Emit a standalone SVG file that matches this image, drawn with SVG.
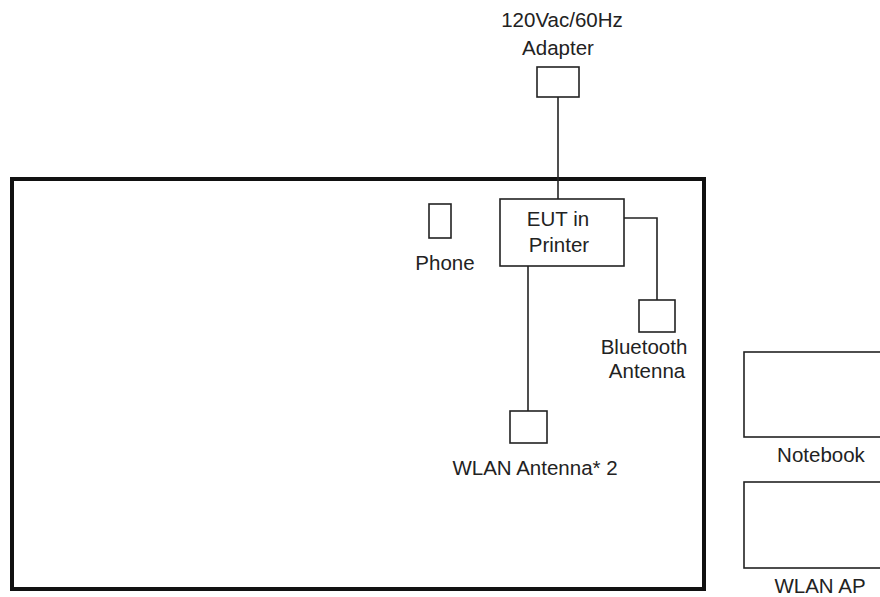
<svg xmlns="http://www.w3.org/2000/svg" width="880" height="597" viewBox="0 0 880 597">
<style>
.t{font-family:"Liberation Sans",Arial,sans-serif;font-size:20.5px;fill:#222;text-anchor:middle}
.b{fill:#fff;stroke:#222;stroke-width:1.6}
.c{fill:none;stroke:#222;stroke-width:1.6}
</style>
<rect width="880" height="597" fill="#fff"/>
<g id="room"><rect x="12" y="179" width="692" height="410" fill="none" stroke="#111" stroke-width="4"/></g>
<g id="connectors">
<path class="c" d="M558 97 V199"/>
<path class="c" d="M624 218 H657 V300"/>
<path class="c" d="M528 266 V411"/>
</g>
<g id="adapter">
<text class="t" x="562" y="27">120Vac/60Hz</text>
<text class="t" x="558" y="55">Adapter</text>
<rect class="b" x="537" y="67" width="42" height="30"/>
</g>
<g id="eut">
<rect class="b" x="500" y="199" width="124" height="67"/>
<text class="t" x="558" y="226">EUT in</text>
<text class="t" x="559" y="252">Printer</text>
</g>
<g id="phone">
<rect class="b" x="429" y="204" width="22" height="34"/>
<text class="t" x="445" y="270">Phone</text>
</g>
<g id="bt">
<rect class="b" x="639" y="300" width="36" height="32"/>
<text class="t" x="644" y="354">Bluetooth</text>
<text class="t" x="647" y="378">Antenna</text>
</g>
<g id="wlan">
<rect class="b" x="510" y="411" width="37" height="32"/>
<text class="t" x="535" y="475">WLAN Antenna* 2</text>
</g>
<g id="notebook">
<rect class="b" x="744" y="352" width="160" height="85"/>
<text class="t" x="821" y="462">Notebook</text>
</g>
<g id="ap">
<rect class="b" x="744" y="482" width="160" height="86"/>
<text class="t" x="820" y="593">WLAN AP</text>
</g>
</svg>
